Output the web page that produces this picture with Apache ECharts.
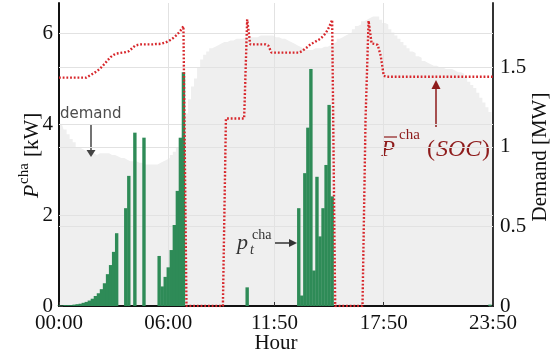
<!DOCTYPE html>
<html>
<head>
<meta charset="utf-8">
<script src="https://cdn.jsdelivr.net/npm/echarts@6/dist/echarts.min.js"></script>
<style>html,body{margin:0;padding:0;background:#fff}#c{width:557px;height:358px}</style>
</head>
<body>
<div id="c"></div>
<script>
// ---- data (10-minute steps, 00:00 .. 23:50) ----
const categories = [];
for (let h = 0; h < 24; h++) for (let m = 0; m < 60; m += 10)
  categories.push(String(h).padStart(2, '0') + ':' + String(m).padStart(2, '0'));

const tickLabels = ['00:00', '06:00', '11:50', '17:50', '23:50'];

// charging power p_t^cha [kW]
const chargePower = [
  0.01,0.01,0.02,0.02,0.02,0.03,0.04,0.05,0.07,0.09,
  0.12,0.16,0.22,0.28,0.37,0.50,0.70,0.90,1.19,1.60,
  0,0,2.15,2.86,0,3.81,0,0,3.70,0,
  0,0,0,1.10,0.43,0.64,0.85,1.23,1.78,2.53,
  3.70,5.14,0,0,0,0,0,0,0,0,
  0,0,0,0,0,0,0,0,0,0,
  0,0,0.41,0,0,0,0,0,0,0,
  0,0,0,0,0,0,0,0,0,2.15,
  0.23,2.92,3.92,5.21,0.78,2.84,1.53,2.15,3.10,4.42,
  2.41,0,0,0,0,0,0,0,0,0,
  0,0,0,0,0,0,0,0,0,0,
  0,0,0,0,0,0,0,0,0,0,
  0,0,0,0,0,0,0,0,0,0,
  0,0,0,0,0,0,0,0,0,0,
  0,0,0.03,0
];

// max charging power P^cha(SOC) [kW]
const maxChargePower = [
  5.02,5.02,5.02,5.02,5.02,5.02,5.02,5.02,5.02,5.02,
  5.06,5.10,5.14,5.19,5.25,5.32,5.40,5.47,5.52,5.55,
  5.56,5.57,5.58,5.60,5.66,5.72,5.74,5.75,5.75,5.75,
  5.75,5.75,5.76,5.76,5.77,5.79,5.82,5.86,5.91,5.97,
  6.05,6.15,0,0,0,0,0,0,0,0,
  0,0,0,0,0,4.12,4.12,4.12,4.12,4.12,
  4.12,4.12,6.30,5.75,5.75,5.75,5.75,5.75,5.75,5.72,
  5.57,5.57,5.57,5.57,5.57,5.57,5.57,5.57,5.57,5.57,
  5.60,5.65,5.70,5.76,5.79,5.83,5.87,5.93,6.01,6.13,
  6.29,0,0,0,0,0,0,0,0,0,
  0,4.10,6.27,5.77,5.76,5.74,5.50,5.06,5.04,5.04,
  5.04,5.04,5.04,5.04,5.04,5.04,5.04,5.04,5.04,5.04,
  5.04,5.04,5.04,5.04,5.04,5.04,5.04,5.04,5.04,5.04,
  5.04,5.04,5.04,5.04,5.04,5.04,5.04,5.04,5.04,5.04,
  5.04,5.04,5.04,5.04
];

// demand [MW]
const demand = [
  1.15,1.14,1.11,1.08,1.05,1.03,1.00,0.99,0.98,0.97,
  0.97,0.96,0.95,0.96,0.96,0.96,0.96,0.95,0.95,0.94,
  0.93,0.93,0.92,0.91,0.91,0.91,0.90,0.90,0.89,0.89,
  0.89,0.89,0.89,0.90,0.91,0.92,0.93,0.95,0.97,1.00,
  1.06,1.13,1.21,1.30,1.38,1.43,1.50,1.55,1.58,1.60,
  1.62,1.63,1.64,1.65,1.66,1.66,1.67,1.67,1.68,1.68,
  1.68,1.69,1.69,1.69,1.69,1.69,1.70,1.70,1.70,1.70,
  1.70,1.69,1.69,1.68,1.68,1.67,1.66,1.65,1.64,1.63,
  1.62,1.61,1.61,1.61,1.62,1.62,1.62,1.63,1.63,1.64,
  1.65,1.66,1.68,1.69,1.70,1.71,1.72,1.74,1.76,1.77,
  1.79,1.80,1.81,1.82,1.82,1.82,1.80,1.78,1.77,1.74,
  1.72,1.70,1.68,1.66,1.64,1.62,1.60,1.59,1.57,1.56,
  1.54,1.53,1.52,1.51,1.51,1.50,1.50,1.49,1.49,1.49,
  1.48,1.47,1.47,1.46,1.44,1.41,1.39,1.37,1.34,1.31,
  1.28,1.25,1.22,1.19
];

const leftGrid = [2, 4, 6];
const rightGrid = [0.5, 1, 1.5];

// ---- chart ----
const tickIdx = tickLabels.map(t => categories.indexOf(t));
const isTick = (i) => tickIdx.indexOf(i) >= 0;
const SERIF = '"Liberation Serif", "DejaVu Serif", serif';
const gridColor = '#e2e2e2';
const darkRed = '#8e1b1b';

const chart = echarts.init(document.getElementById('c'), null, {renderer: 'canvas'});
chart.setOption({
  animation: false,
  backgroundColor: '#ffffff',
  grid: {left: 59, right: 64, top: 3, bottom: 52, containLabel: false},
  xAxis: {
    type: 'category',
    data: categories,
    boundaryGap: false,
    axisLine: {show: true, lineStyle: {color: '#111', width: 2}},
    axisTick: {show: true, inside: true, length: 4, interval: isTick, lineStyle: {color: '#333'}},
    axisLabel: {interval: isTick, fontFamily: SERIF, fontSize: 21, color: '#111', margin: 7},
    splitLine: {show: true, interval: isTick, lineStyle: {color: gridColor, width: 1}}
  },
  yAxis: [{
    type: 'value', min: 0, max: 6.66, interval: 2,
    axisLine: {show: true, lineStyle: {color: '#111', width: 2}},
    axisTick: {show: true, inside: true, length: 4, lineStyle: {color: '#333'}},
    axisLabel: {fontFamily: SERIF, fontSize: 21, color: '#111', margin: 6, showMaxLabel: false},
    splitLine: {show: false}
  }, {
    type: 'value', position: 'right', min: 0, max: 1.905, interval: 0.5,
    axisLine: {show: true, lineStyle: {color: '#333', width: 2}},
    axisTick: {show: true, inside: true, length: 4, lineStyle: {color: '#333'}},
    axisLabel: {fontFamily: SERIF, fontSize: 21, color: '#111', margin: 7, showMaxLabel: false},
    splitLine: {show: false}
  }],
  series: [{
    name: 'demand', type: 'line', yAxisIndex: 1, data: demand, step: 'middle',
    symbol: 'none', silent: true, z: -1,
    lineStyle: {width: 0, color: '#efefef'},
    areaStyle: {color: '#efefef', opacity: 1},
    markLine: {
      silent: true, symbol: 'none', z: 1, animation: false,
      label: {show: false},
      lineStyle: {color: gridColor, type: 'solid', width: 1},
      data: rightGrid.map(v => ({yAxis: v}))
    }
  }, {
    name: 'pcha', type: 'bar', yAxisIndex: 0, data: chargePower,
    barWidth: 3.4, barGap: '0%', z: 2, silent: true,
    itemStyle: {color: '#2e8b57', borderWidth: 0},
    markLine: {
      silent: true, symbol: 'none', z: 1, animation: false,
      label: {show: false},
      lineStyle: {color: gridColor, type: 'solid', width: 1},
      data: leftGrid.map(v => ({yAxis: v}))
    }
  }, {
    name: 'pmax', type: 'line', yAxisIndex: 0, data: maxChargePower,
    symbol: 'none', z: 3, silent: true,
    lineStyle: {color: '#d7262b', width: 2.4, type: [1.8, 1.9]}
  }],
  graphic: [
    // left axis name  P^cha [kW]
    {type: 'group', x: 39, y: 198, rotation: Math.PI / 2, children: [
      {type: 'text', x: 0, y: -7, style: {text: 'P', fontFamily: SERIF, fontStyle: 'italic', fontSize: 22, fill: '#111', verticalAlign: 'middle'}},
      {type: 'text', x: 14, y: -15, style: {text: 'cha', fontFamily: SERIF, fontSize: 15, fill: '#111', verticalAlign: 'middle'}},
      {type: 'text', x: 41, y: -7, style: {text: '[kW]', fontFamily: SERIF, fontSize: 21, fill: '#111', verticalAlign: 'middle'}}
    ]},
    // right axis name
    {type: 'text', x: 540, y: 157, rotation: Math.PI / 2,
      style: {text: 'Demand [MW]', fontFamily: SERIF, fontSize: 21, fill: '#111', align: 'center', verticalAlign: 'middle'}},
    // x axis name
    {type: 'text', x: 276, y: 343, style: {text: 'Hour', fontFamily: SERIF, fontSize: 21, fill: '#111', align: 'center', verticalAlign: 'middle'}},
    // "demand" annotation
    {type: 'text', x: 60, y: 114, style: {text: 'demand', fontFamily: '"DejaVu Sans", sans-serif', fontSize: 15, fill: '#4d4d4d', verticalAlign: 'middle'}},
    {type: 'line', shape: {x1: 91, y1: 125, x2: 91, y2: 151}, style: {stroke: '#444', lineWidth: 1.5}},
    {type: 'polygon', shape: {points: [[86.5, 150], [95.5, 150], [91, 157]]}, style: {fill: '#444'}},
    // p_t^cha annotation
    {type: 'text', x: 237, y: 243, style: {text: 'p', fontFamily: SERIF, fontStyle: 'italic', fontSize: 22, fill: '#333', verticalAlign: 'middle'}},
    {type: 'text', x: 250, y: 250, style: {text: 't', fontFamily: SERIF, fontStyle: 'italic', fontSize: 14, fill: '#333', verticalAlign: 'middle'}},
    {type: 'text', x: 252, y: 235, style: {text: 'cha', fontFamily: SERIF, fontSize: 14, fill: '#333', verticalAlign: 'middle'}},
    {type: 'line', shape: {x1: 274, y1: 243, x2: 290, y2: 243}, style: {stroke: '#333', lineWidth: 1.5}},
    {type: 'polygon', shape: {points: [[289, 239], [297, 243], [289, 247]]}, style: {fill: '#333'}},
    // P̄^cha(SOC) annotation
    {type: 'text', x: 381, y: 150, style: {text: 'P', fontFamily: SERIF, fontStyle: 'italic', fontSize: 23, fill: darkRed, verticalAlign: 'middle'}},
    {type: 'line', shape: {x1: 384, y1: 137, x2: 397, y2: 137}, style: {stroke: darkRed, lineWidth: 1.2}},
    {type: 'text', x: 399, y: 135, style: {text: 'cha', fontFamily: SERIF, fontSize: 15, fill: darkRed, verticalAlign: 'middle'}},
    {type: 'text', x: 427, y: 150, style: {text: '(', fontFamily: SERIF, fontSize: 24, fill: darkRed, verticalAlign: 'middle'}},
    {type: 'text', x: 436, y: 150, style: {text: 'SOC', fontFamily: SERIF, fontStyle: 'italic', fontSize: 24, fill: darkRed, verticalAlign: 'middle'}},
    {type: 'text', x: 482, y: 150, style: {text: ')', fontFamily: SERIF, fontSize: 24, fill: darkRed, verticalAlign: 'middle'}},
    {type: 'line', shape: {x1: 436, y1: 127, x2: 436, y2: 88}, style: {stroke: darkRed, lineWidth: 1.5}},
    {type: 'polygon', shape: {points: [[431.5, 89], [436, 80], [440.5, 89]]}, style: {fill: darkRed}}
  ]
});
</script>
</body>
</html>
